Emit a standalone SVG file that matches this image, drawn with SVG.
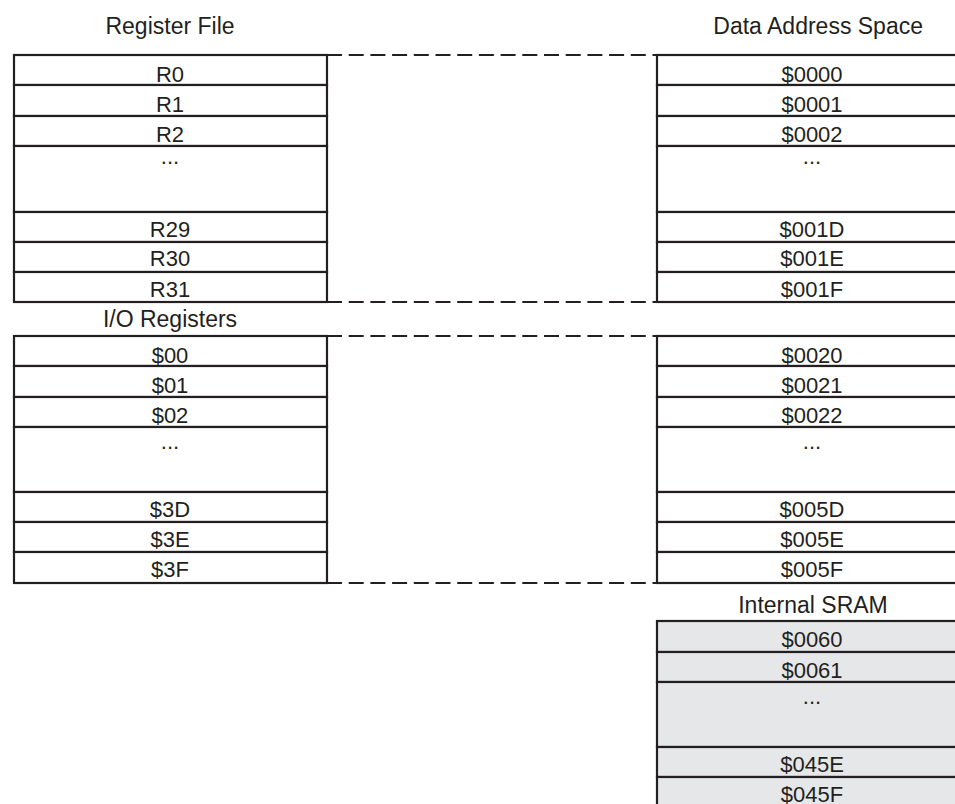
<svg xmlns="http://www.w3.org/2000/svg" width="955" height="804" viewBox="0 0 955 804">
<style>
  text { font-family: "Liberation Sans", Arial, Helvetica, sans-serif; fill: #231f20; text-anchor: middle; }
  .t { font-size: 23px; }
  .c { font-size: 22px; }
  .cell { fill: #ffffff; stroke: #231f20; stroke-width: 2.2; }
  .sram { fill: #e6e7e8; stroke: #231f20; stroke-width: 2.2; }
  .dash { stroke: #231f20; stroke-width: 2.2; stroke-dasharray: 15 6.7; fill: none; }
</style>
<rect width="955" height="804" fill="#ffffff"/>

<g id="connectors">
  <line class="dash" x1="327" y1="55" x2="657" y2="55"/>
  <line class="dash" x1="327" y1="302" x2="657" y2="302"/>
  <line class="dash" x1="327" y1="336" x2="657" y2="336"/>
  <line class="dash" x1="327" y1="583" x2="657" y2="583"/>
</g>

<g id="register-file">
  <text class="t" x="170" y="34">Register File</text>
  <g id="r0"><rect class="cell" x="14" y="55" width="313" height="30"/><text class="c" x="170" y="82">R0</text></g>
  <g id="r1"><rect class="cell" x="14" y="85" width="313" height="31"/><text class="c" x="170" y="112">R1</text></g>
  <g id="r2"><rect class="cell" x="14" y="116" width="313" height="30"/><text class="c" x="170" y="142">R2</text></g>
  <g id="r-dots"><rect class="cell" x="14" y="146" width="313" height="66"/><text class="c" x="170" y="164">...</text></g>
  <g id="r29"><rect class="cell" x="14" y="212" width="313" height="30"/><text class="c" x="170" y="237">R29</text></g>
  <g id="r30"><rect class="cell" x="14" y="242" width="313" height="30"/><text class="c" x="170" y="266">R30</text></g>
  <g id="r31"><rect class="cell" x="14" y="272" width="313" height="30"/><text class="c" x="170" y="297">R31</text></g>
</g>

<g id="io-registers">
  <text class="t" x="170" y="327">I/O Registers</text>
  <g id="io00"><rect class="cell" x="14" y="336" width="313" height="30"/><text class="c" x="170" y="363">$00</text></g>
  <g id="io01"><rect class="cell" x="14" y="366" width="313" height="31"/><text class="c" x="170" y="393">$01</text></g>
  <g id="io02"><rect class="cell" x="14" y="397" width="313" height="30"/><text class="c" x="170" y="423">$02</text></g>
  <g id="io-dots"><rect class="cell" x="14" y="427" width="313" height="65"/><text class="c" x="170" y="449">...</text></g>
  <g id="io3d"><rect class="cell" x="14" y="492" width="313" height="30"/><text class="c" x="170" y="517">$3D</text></g>
  <g id="io3e"><rect class="cell" x="14" y="522" width="313" height="30"/><text class="c" x="170" y="547">$3E</text></g>
  <g id="io3f"><rect class="cell" x="14" y="552" width="313" height="31"/><text class="c" x="170" y="577">$3F</text></g>
</g>

<g id="data-address-space">
  <text class="t" x="923" y="34" style="text-anchor:end">Data Address Space</text>
  <g id="d0000"><rect class="cell" x="657" y="55" width="320" height="30"/><text class="c" x="812" y="82">$0000</text></g>
  <g id="d0001"><rect class="cell" x="657" y="85" width="320" height="31"/><text class="c" x="812" y="112">$0001</text></g>
  <g id="d0002"><rect class="cell" x="657" y="116" width="320" height="30"/><text class="c" x="812" y="142">$0002</text></g>
  <g id="d-dots1"><rect class="cell" x="657" y="146" width="320" height="66"/><text class="c" x="812" y="164">...</text></g>
  <g id="d001d"><rect class="cell" x="657" y="212" width="320" height="30"/><text class="c" x="812" y="237">$001D</text></g>
  <g id="d001e"><rect class="cell" x="657" y="242" width="320" height="30"/><text class="c" x="812" y="266">$001E</text></g>
  <g id="d001f"><rect class="cell" x="657" y="272" width="320" height="30"/><text class="c" x="812" y="297">$001F</text></g>

  <g id="d0020"><rect class="cell" x="657" y="336" width="320" height="30"/><text class="c" x="812" y="363">$0020</text></g>
  <g id="d0021"><rect class="cell" x="657" y="366" width="320" height="31"/><text class="c" x="812" y="393">$0021</text></g>
  <g id="d0022"><rect class="cell" x="657" y="397" width="320" height="30"/><text class="c" x="812" y="423">$0022</text></g>
  <g id="d-dots2"><rect class="cell" x="657" y="427" width="320" height="65"/><text class="c" x="812" y="449">...</text></g>
  <g id="d005d"><rect class="cell" x="657" y="492" width="320" height="30"/><text class="c" x="812" y="517">$005D</text></g>
  <g id="d005e"><rect class="cell" x="657" y="522" width="320" height="30"/><text class="c" x="812" y="547">$005E</text></g>
  <g id="d005f"><rect class="cell" x="657" y="552" width="320" height="31"/><text class="c" x="812" y="577">$005F</text></g>
</g>

<g id="internal-sram">
  <text class="t" x="813" y="613">Internal SRAM</text>
  <g id="s0060"><rect class="sram" x="657" y="621" width="320" height="31"/><text class="c" x="812" y="647">$0060</text></g>
  <g id="s0061"><rect class="sram" x="657" y="652" width="320" height="30"/><text class="c" x="812" y="678">$0061</text></g>
  <g id="s-dots"><rect class="sram" x="657" y="682" width="320" height="65"/><text class="c" x="812" y="704">...</text></g>
  <g id="s045e"><rect class="sram" x="657" y="747" width="320" height="30"/><text class="c" x="812" y="772">$045E</text></g>
  <g id="s045f"><rect class="sram" x="657" y="777" width="320" height="31"/><text class="c" x="812" y="802">$045F</text></g>
</g>
</svg>
